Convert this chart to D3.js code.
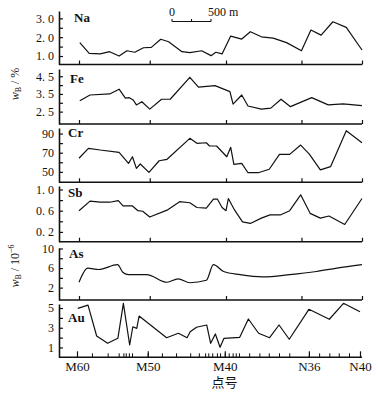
<!DOCTYPE html>
<html><head><meta charset="utf-8">
<script src="https://cdn.jsdelivr.net/npm/d3@7/dist/d3.min.js"></script>
<style>body{margin:0;background:#fff}svg{display:block}</style>
</head><body>
<svg id="c" width="379" height="397"></svg>
<script>
// ---------- data (distance along profile in m, element content) ----------
const naDist = [10,130,270,390,510,610,710,820,920,1040,1140,1310,1410,1560,1680,1740,1820,1930,2070,2180,2320,2470,2640,2830,2950,3080,3230,3400,3600];
const naVal  = [1.71,1.14,1.11,1.23,1.00,1.28,1.20,1.44,1.46,1.89,1.76,1.23,1.18,1.28,1.02,1.20,1.11,2.06,1.90,2.29,2.02,1.95,1.71,1.28,2.38,2.11,2.82,2.52,1.32];

const feDist = [10,140,390,510,590,640,690,730,800,900,1050,1160,1410,1520,1730,1920,1960,2070,2150,2320,2440,2570,2690,2960,3170,3360,3600];
const feVal  = [3.12,3.44,3.50,3.77,3.26,3.29,3.16,2.88,3.06,2.64,3.20,3.20,4.44,3.88,3.97,3.63,2.92,3.44,2.82,2.64,2.70,3.20,2.78,3.29,2.88,2.94,2.84];

const crDist = [0,120,270,510,630,680,730,780,890,1020,1120,1410,1500,1620,1660,1750,1880,1930,1970,2070,2150,2280,2420,2550,2680,2820,2930,3070,3200,3400,3600];
const crVal  = [64.2,74.6,72.8,70.4,58.9,65.8,53.7,58.2,49.5,61.6,63.1,85.0,79.8,80.4,77.0,77.0,65.8,75.6,57.9,58.9,49.1,49.1,52.7,68.3,68.3,78.0,68.6,52.0,55.4,93.0,80.4];

const sbDist = [0,140,270,390,500,560,680,750,810,900,1120,1280,1410,1500,1620,1710,1760,1820,1870,1900,1980,2080,2180,2320,2430,2560,2680,2820,2940,3070,3180,3380,3600];
const sbVal  = [0.60,0.78,0.76,0.76,0.79,0.69,0.69,0.60,0.59,0.48,0.61,0.77,0.75,0.66,0.65,0.82,0.82,0.66,0.60,0.83,0.61,0.39,0.36,0.46,0.52,0.52,0.60,0.90,0.55,0.46,0.50,0.34,0.83];

const asDist = [0,110,250,490,560,630,860,1120,1260,1410,1620,1710,1840,2050,2340,2680,3020,3280,3600];
const asVal  = [3.1,6.0,5.7,6.7,5.1,4.65,4.65,3.1,3.8,3.0,3.5,6.7,5.3,4.65,4.2,4.65,5.3,6.0,6.7];

const auDist = [10,140,250,390,520,590,670,710,760,790,1140,1290,1400,1440,1520,1650,1700,1760,1820,1870,2070,2180,2310,2450,2570,2700,2950,3210,3390,3600];
const auVal  = [4.97,5.3,2.16,1.42,1.93,5.48,1.25,3.1,2.94,4.19,1.99,2.44,1.99,2.6,3.05,3.28,1.42,2.37,1.02,1.93,2.03,3.89,2.44,1.99,3.28,1.83,4.87,3.86,5.48,4.63];

// sample points (minor ticks on the bottom axis)
const samplePoints = [0,190,390,530,590,620,660,700,900,1080,1260,1440,1550,1630,1670,1720,1780,1820,1880,1930,1980,2020,2060,2190,2320,2440,2570,2700,2950,3080,3210,3330,3460,3600];
// labelled points
const pointNames = ["M60","M50","M40","N36","N40"];
const pointDist  = [0,900,1880,2950,3600];
const upperTickDist = [0,900,1870,2830,3600];

// y ticks
const naTicks = [1,1.5,2,2.5,3],   naLabels = {1:"1. 0",2:"2. 0",3:"3. 0"};
const feTicks = [2.5,3,3.5,4,4.5], feLabels = {2.5:"2. 5",3.5:"3. 5",4.5:"4. 5"};
const crTicks = [50,60,70,80,90],  crLabels = {50:"50",70:"70",90:"90"};
const sbTicks = [0.2,0.4,0.6,0.8,1.0], sbLabels = {0.2:"0. 2",0.6:"0. 6",1:"1. 0"};
const asTicks = [2,4,6,8,10],      asLabels = {2:"2",6:"6",10:"10"};
const auTicks = [1,2,3,4,5],       auLabels = {1:"1",3:"3",5:"5"};

// ---------- layout ----------
const svg = d3.select("#c");
const SERIF = "'Liberation Serif','DejaVu Serif',serif";
const axisX = 59, rightEnd = 362;
const x = d3.scaleLinear().domain([0,3600]).range([77,360]);

const panels = [
  {name:"Na", dist:naDist, val:naVal, domain:[0.55,3.39], ticks:naTicks, labels:naLabels, top:11,  bottom:64.5, lx:74, ly:21.7, shift:2},
  {name:"Fe", dist:feDist, val:feVal, domain:[1.80,4.91], ticks:feTicks, labels:feLabels, top:69,  bottom:124,  lx:70, ly:82.7, shift:2},
  {name:"Cr", dist:crDist, val:crVal, domain:[39.1,95.8], ticks:crTicks, labels:crLabels, top:128, bottom:182.3,lx:68, ly:136.7,shift:2},
  {name:"Sb", dist:sbDist, val:sbVal, domain:[0.015,1.066],ticks:sbTicks,labels:sbLabels, top:186, bottom:241.7,lx:68, ly:196.7,shift:2},
  {name:"As", dist:asDist, val:asVal, domain:[-0.53,10.1], ticks:asTicks, labels:asLabels, top:248, bottom:300,  lx:69, ly:258,  shift:2, curve:true},
  {name:"Au", dist:auDist, val:auVal, domain:[0,5.41],     ticks:auTicks, labels:auLabels, top:304, bottom:357.3,lx:68, ly:321.7,shift:0}
];

panels.forEach((p,i) => {
  const y = d3.scaleLinear().domain(p.domain).range([p.bottom,p.top]);
  // left axis
  const ya = d3.axisLeft(y).tickValues(p.ticks).tickSizeInner(-4).tickSizeOuter(0).tickPadding(5)
      .tickFormat(d => p.labels[d] !== undefined ? p.labels[d] : "");
  const gy = svg.append("g").attr("transform",`translate(${axisX},0)`).call(ya);
  gy.select(".domain").attr("stroke","#111").attr("stroke-width",1.6);
  gy.selectAll(".tick line").attr("stroke","#111").attr("stroke-width",1.2);
  gy.selectAll("text").attr("font-family",SERIF).attr("font-size",12).attr("fill","#111");

  // baseline
  svg.append("line").attr("x1",axisX).attr("x2",rightEnd).attr("y1",p.bottom).attr("y2",p.bottom)
     .attr("stroke","#111").attr("stroke-width",1.6);

  const g = svg.append("g").attr("transform",`translate(${p.shift},0)`);
  if (i < panels.length-1) {
    const xa = d3.axisBottom(x).tickValues(upperTickDist).tickSizeInner(-4).tickSizeOuter(0).tickFormat("");
    const gx = g.append("g").attr("transform",`translate(0,${p.bottom})`).call(xa);
    gx.select(".domain").remove();
    gx.selectAll(".tick line").attr("stroke","#111").attr("stroke-width",1.2);
  } else {
    const xm = d3.axisBottom(x).tickValues(samplePoints).tickSizeInner(-4).tickSizeOuter(0).tickFormat("");
    const gm = g.append("g").attr("transform",`translate(0,${p.bottom})`).call(xm);
    gm.select(".domain").remove();
    gm.selectAll(".tick line").attr("stroke","#111").attr("stroke-width",1);
    const xM = d3.axisBottom(x).tickValues(pointDist).tickSizeInner(-6).tickSizeOuter(0).tickPadding(4)
        .tickFormat((d,j) => pointNames[j]);
    const gM = g.append("g").attr("transform",`translate(0,${p.bottom})`).call(xM);
    gM.select(".domain").remove();
    gM.selectAll(".tick line").attr("stroke","#111").attr("stroke-width",1.2);
    gM.selectAll("text").attr("font-family",SERIF).attr("font-size",13).attr("fill","#111");
  }

  const line = d3.line().x((d,j)=>x(p.dist[j])).y(d=>y(d));
  if (p.curve) line.curve(d3.curveMonotoneX);
  g.append("path").datum(p.val).attr("d",line).attr("fill","none")
   .attr("stroke","#111").attr("stroke-width",1.2).attr("stroke-linejoin","round");

  svg.append("text").attr("x",p.lx).attr("y",p.ly).text(p.name)
     .attr("font-family",SERIF).attr("font-size",13).attr("font-weight","bold").attr("fill","#111");
});

// x title
svg.append("text").attr("x",224.5).attr("y",387).attr("text-anchor","middle")
   .attr("font-family","'Noto Sans CJK SC',sans-serif").attr("font-size",13).attr("fill","#111").text("点号");

// y titles
function yTitle(cx, cy, unitParts){
  const t = svg.append("text").attr("transform",`translate(${cx},${cy}) rotate(-90)`)
     .attr("text-anchor","middle").attr("font-family",SERIF).attr("font-size",12).attr("fill","#111");
  t.append("tspan").attr("font-style","italic").text("w");
  t.append("tspan").attr("font-size",8).attr("dy",2).text("B");
  t.append("tspan").attr("dy",-2).text(" / ");
  unitParts.forEach(u => {
    const s = t.append("tspan").text(u.t);
    if (u.sup) s.attr("font-size",8).attr("dy",-5);
  });
}
yTitle(19, 84, [{t:"%"}]);
yTitle(19, 266, [{t:"10"},{t:"−6",sup:true}]);

// scale bar
const sb = svg.append("g").attr("stroke","#111").attr("stroke-width",1.1);
sb.append("line").attr("x1",172).attr("x2",211).attr("y1",21.5).attr("y2",21.5);
[172,191.5,211].forEach(v => sb.append("line").attr("x1",v).attr("x2",v).attr("y1",21.5).attr("y2",19));
svg.append("text").attr("x",172).attr("y",16).attr("text-anchor","middle").attr("font-family",SERIF)
   .attr("font-size",12).attr("fill","#111").text("0");
svg.append("text").attr("x",208).attr("y",16).attr("font-family",SERIF)
   .attr("font-size",12).attr("fill","#111").text("500 m");
</script>
</body></html>
